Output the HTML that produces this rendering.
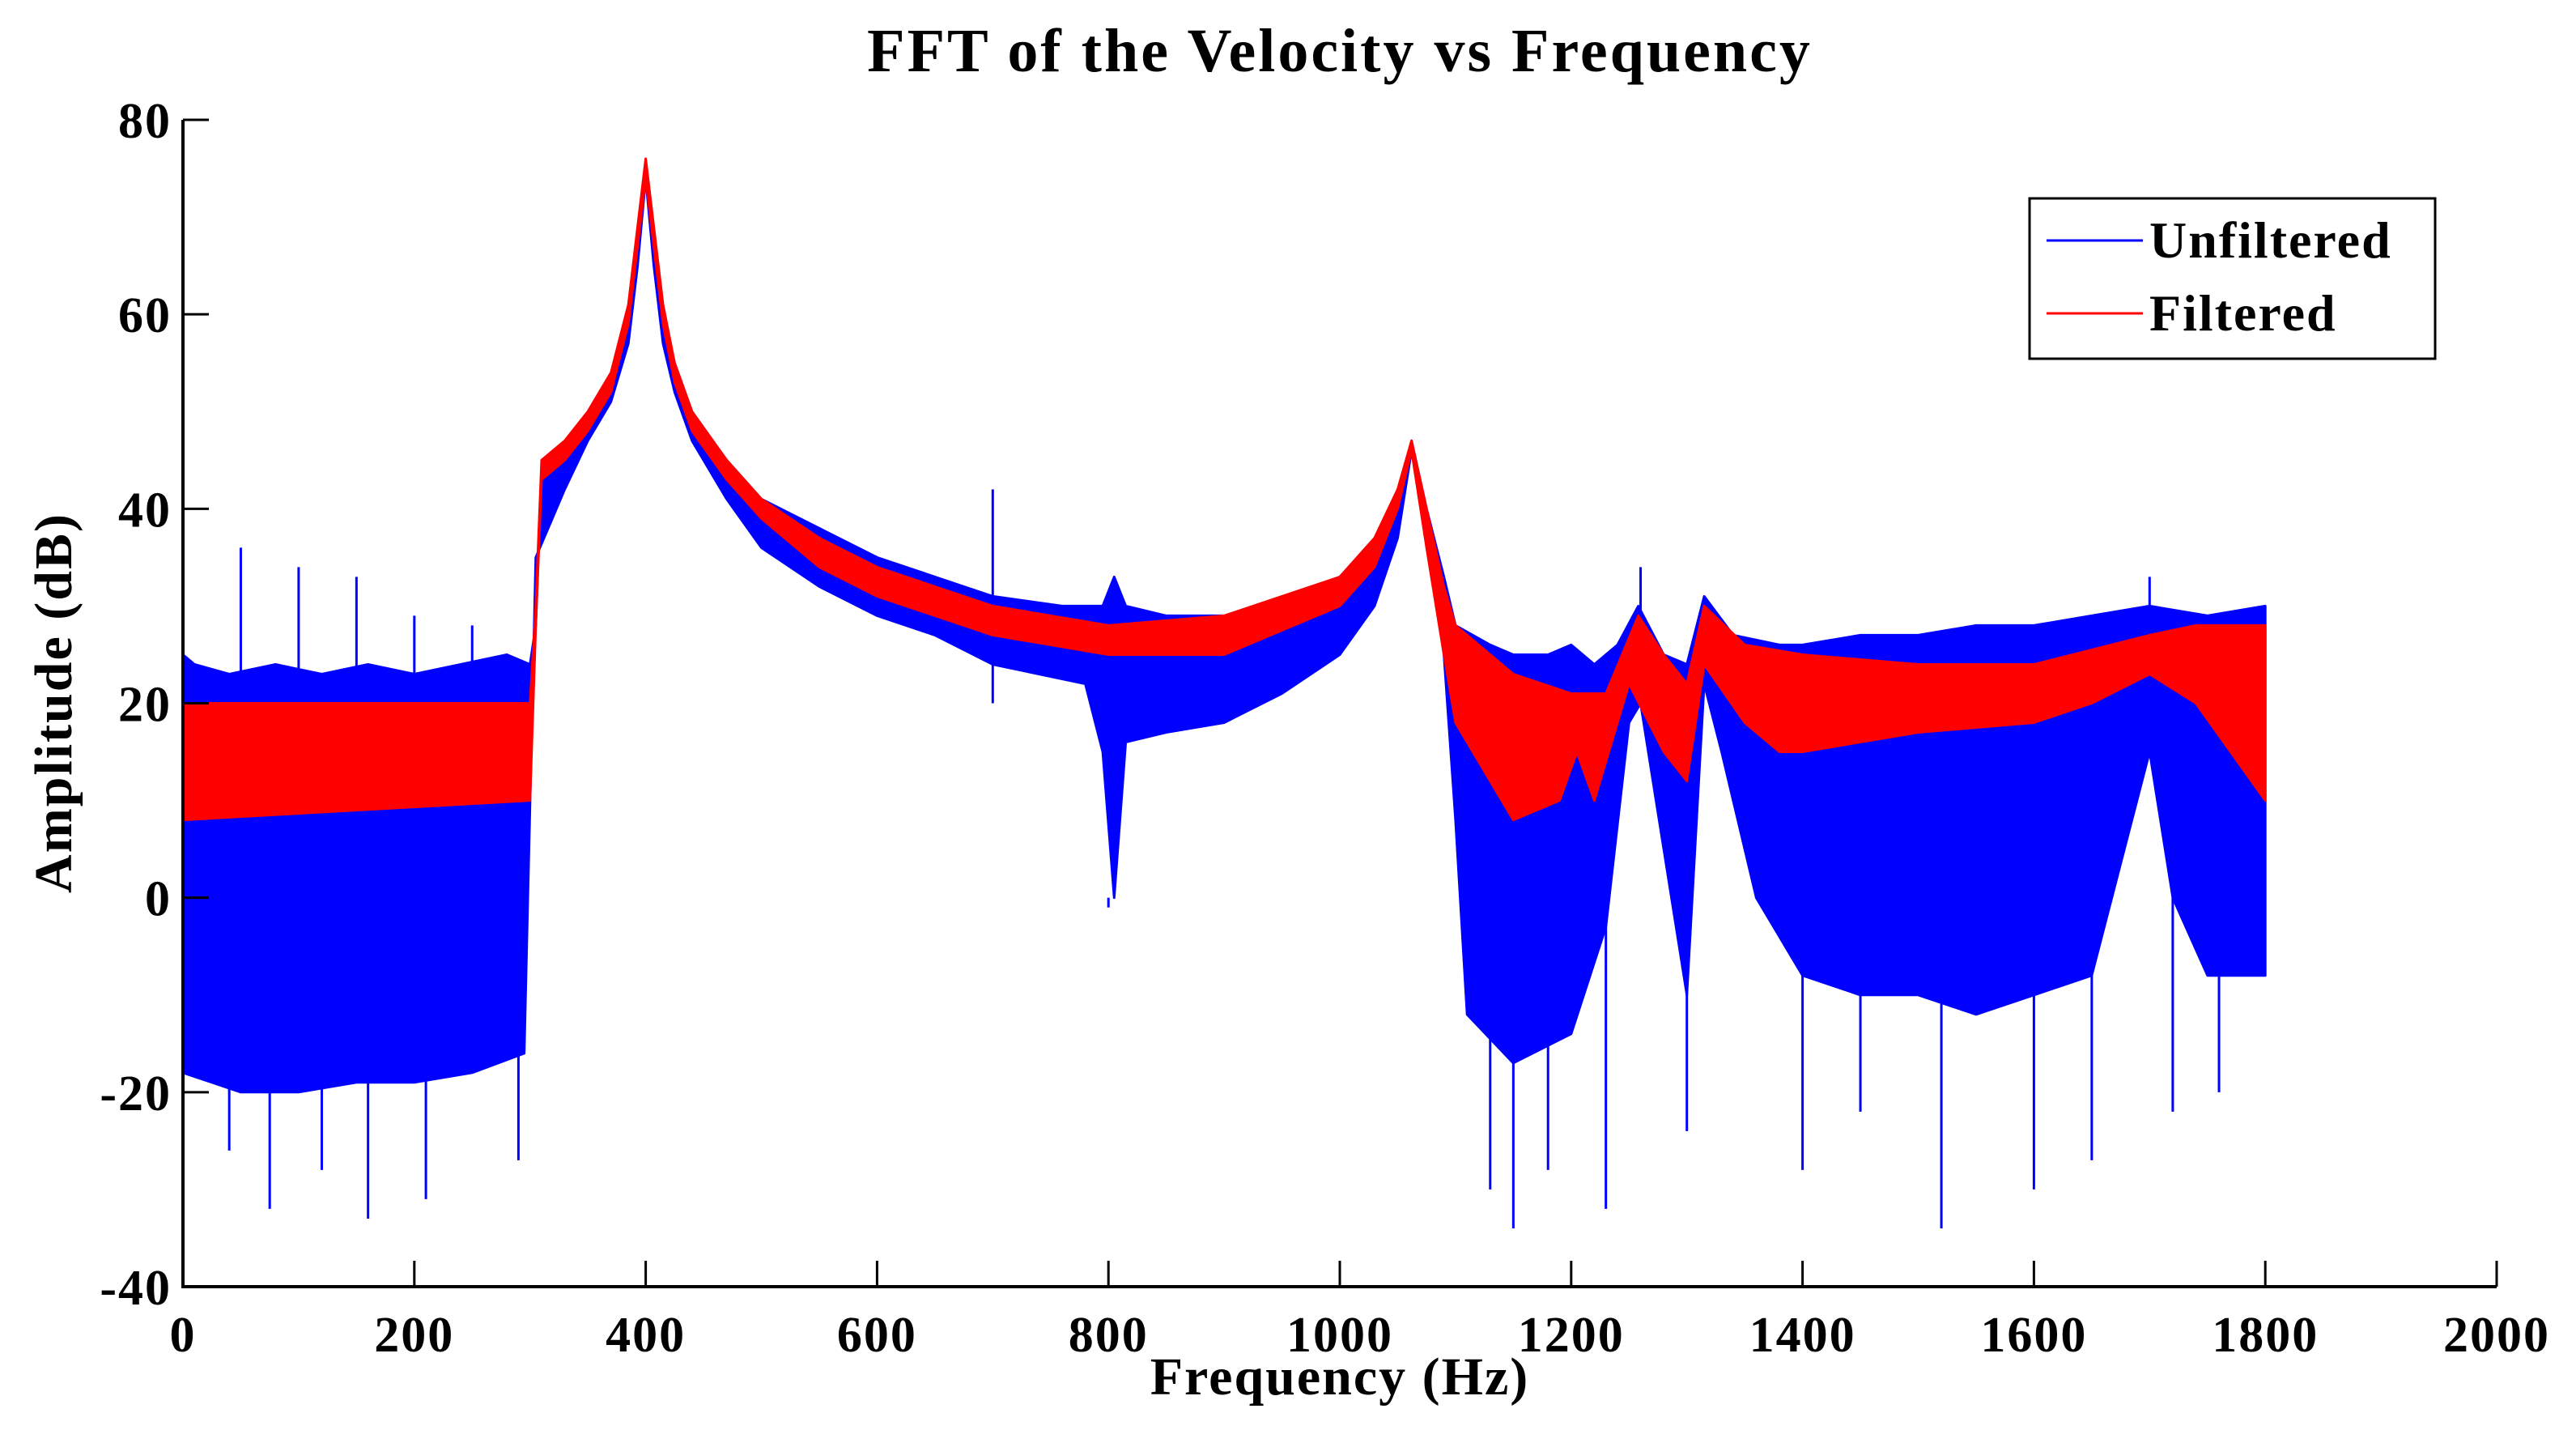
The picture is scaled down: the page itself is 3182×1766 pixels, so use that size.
<!DOCTYPE html>
<html><head><meta charset="utf-8">
<style>
html,body{margin:0;padding:0;background:#fff;}
svg{display:block;}
text{font-family:"Liberation Serif",serif;font-weight:bold;fill:#000;}
</style></head>
<body>
<svg id="chart" width="3182" height="1766" viewBox="0 0 3182 1766" xmlns="http://www.w3.org/2000/svg">
<rect width="3182" height="1766" fill="#fff"/>
<g id="plot"></g>
<g id="axes"></g>
<text x="1655" y="88" font-size="76" text-anchor="middle" letter-spacing="3">FFT of the Velocity vs Frequency</text>
<text x="1655" y="1722" font-size="66" text-anchor="middle" letter-spacing="2">Frequency (Hz)</text>
<text x="0" y="0" font-size="66" text-anchor="middle" letter-spacing="2" transform="translate(88,868) rotate(-90)">Amplitude (dB)</text>
<g>
<rect x="2507" y="245" width="501" height="198" fill="#fff" stroke="#000" stroke-width="3"/>
<line x1="2528" y1="297" x2="2647" y2="297" stroke="#0000ff" stroke-width="3"/>
<text x="2655" y="318" font-size="64" letter-spacing="2">Unfiltered</text>
<line x1="2528" y1="387" x2="2647" y2="387" stroke="#ff0000" stroke-width="3"/>
<text x="2655" y="408" font-size="64" letter-spacing="2">Filtered</text>
</g>
</svg>
<script>
// Axis data
const xTicks = [0,200,400,600,800,1000,1200,1400,1600,1800,2000];
const yTicks = [-40,-20,0,20,40,60,80];
// Unfiltered envelope (Hz, dB)
const blueUpperF = [0,10,40,80,120,160,200,240,280,300,305,310,330,350,370,385,393,400,407,415,425,440,470,500,550,600,650,700,760,795,805,815,850,900,950,1000,1030,1050,1062,1075,1090,1100,1130,1150,1180,1200,1220,1240,1258,1280,1300,1315,1340,1380,1400,1450,1500,1550,1600,1650,1700,1750,1800];
const blueUpperV = [25,24,23,24,23,24,23,24,25,24,28,44,46,49,53,60,68,75,68,60,55,50,45,41,38,35,33,31,30,30,33,30,29,29,30,33,36,40,47,40,33,28,26,25,25,26,24,26,30,25,24,31,27,26,26,27,27,28,28,29,30,29,30];
const blueLowerF = [0,50,100,150,200,250,295,305,330,350,370,385,393,400,407,415,425,440,470,500,550,600,650,700,780,795,805,815,850,900,950,1000,1030,1050,1062,1075,1090,1100,1110,1150,1200,1230,1250,1260,1280,1300,1315,1330,1360,1400,1450,1500,1550,1600,1650,1700,1720,1750,1800];
const blueLowerV = [-18,-20,-20,-19,-19,-18,-16,35,42,47,51,57,65,74,65,57,52,47,41,36,32,29,27,24,22,15,0,16,17,18,21,25,30,37,46,38,25,8,-12,-17,-14,-3,18,20,5,-10,22,15,0,-8,-10,-10,-12,-10,-8,15,0,-8,-8];
// Filtered envelope
const redUpperF = [0,300,305,310,330,350,370,385,393,400,407,415,425,440,470,500,550,600,650,700,800,900,1000,1030,1050,1062,1075,1090,1100,1150,1200,1230,1258,1280,1300,1315,1350,1400,1500,1600,1700,1740,1800];
const redUpperV = [20,20,30,45,47,50,54,61,69,76,69,61,55,50,45,41,37,34,32,30,28,29,33,37,42,47,40,32,28,23,21,21,29,25,22,30,26,25,24,24,27,28,28];
const redLowerF = [0,300,305,310,330,350,370,385,393,400,407,415,425,440,470,500,550,600,650,700,800,900,1000,1030,1050,1062,1075,1090,1100,1150,1190,1205,1220,1250,1280,1300,1315,1350,1380,1400,1500,1600,1650,1700,1740,1770,1800];
const redLowerV = [8,10,28,43,45,48,52,59,67,74,67,59,53,48,43,39,34,31,29,27,25,25,30,34,40,46,36,25,18,8,10,15,10,22,15,12,24,18,15,15,17,18,20,23,20,15,10];
// Spikes
const upSpikeF = [50,100,150,200,250,700,1260,1700];
const upSpikeV = [36,34,33,29,28,42,34,33];
const downSpikeF = [40,75,120,160,210,290,800,1130,1150,1180,1230,1300,1400,1450,1520,1600,1650,1720,1760];
const downSpikeV = [-26,-32,-28,-33,-31,-27,-1,-30,-34,-28,-32,-24,-28,-22,-34,-30,-27,-22,-20];

const X0=226, X1=3084, Y0=1589, Y1=148;
const xs = f => X0 + (f-0)/(2000-0)*(X1-X0);
const ys = v => Y0 - (v+40)/(120)*(Y0-Y1);
const NS="http://www.w3.org/2000/svg";
const plot=document.getElementById('plot'), axes=document.getElementById('axes');
function mk(tag, attrs, parent){const e=document.createElementNS(NS,tag);for(const k in attrs)e.setAttribute(k,attrs[k]);parent.appendChild(e);return e;}
function band(uf,uv,lf,lv,color,name){
  let d='M'+uf.map((f,i)=>xs(f).toFixed(1)+','+ys(uv[i]).toFixed(1)).join('L');
  for(let i=lf.length-1;i>=0;i--) d+='L'+xs(lf[i]).toFixed(1)+','+ys(lv[i]).toFixed(1);
  d+='Z';
  const p=mk('path',{d:d,fill:color,stroke:color,'stroke-width':3,'stroke-linejoin':'round'},plot);
  
  
}
band(blueUpperF,blueUpperV,blueLowerF,blueLowerV,'#0000ff','series-unfiltered');
upSpikeF.forEach((f,i)=>{
  const l=mk('line',{x1:xs(f),x2:xs(f),y1:ys(upSpikeV[i]),y2:ys(20),stroke:'#0000ff','stroke-width':3},plot);
  
  
});
downSpikeF.forEach((f,i)=>{
  const l=mk('line',{x1:xs(f),x2:xs(f),y1:ys(downSpikeV[i]),y2:ys(0),stroke:'#0000ff','stroke-width':3},plot);
  
  
});
band(redUpperF,redUpperV,redLowerF,redLowerV,'#ff0000','series-filtered');
// axes
const ax=mk('path',{d:`M${X0},${Y1}L${X0},${Y0}L${X1},${Y0}`,fill:'none',stroke:'#000','stroke-width':4},axes);


xTicks.forEach(t=>{
  const l=mk('line',{x1:xs(t),x2:xs(t),y1:Y0,y2:Y0-32,stroke:'#000','stroke-width':3},axes);
  
  
  const tx=mk('text',{x:xs(t),y:Y0+80,'font-size':62,'text-anchor':'middle','letter-spacing':2},axes);
  tx.textContent=t;
  
  
});
yTicks.forEach(t=>{
  const l=mk('line',{x1:X0,x2:X0+32,y1:ys(t),y2:ys(t),stroke:'#000','stroke-width':3},axes);
  
  
  const tx=mk('text',{x:X0-14,y:ys(t)+22,'font-size':62,'text-anchor':'end','letter-spacing':2},axes);
  tx.textContent=t;
  
  
});
</script>
</body></html>
